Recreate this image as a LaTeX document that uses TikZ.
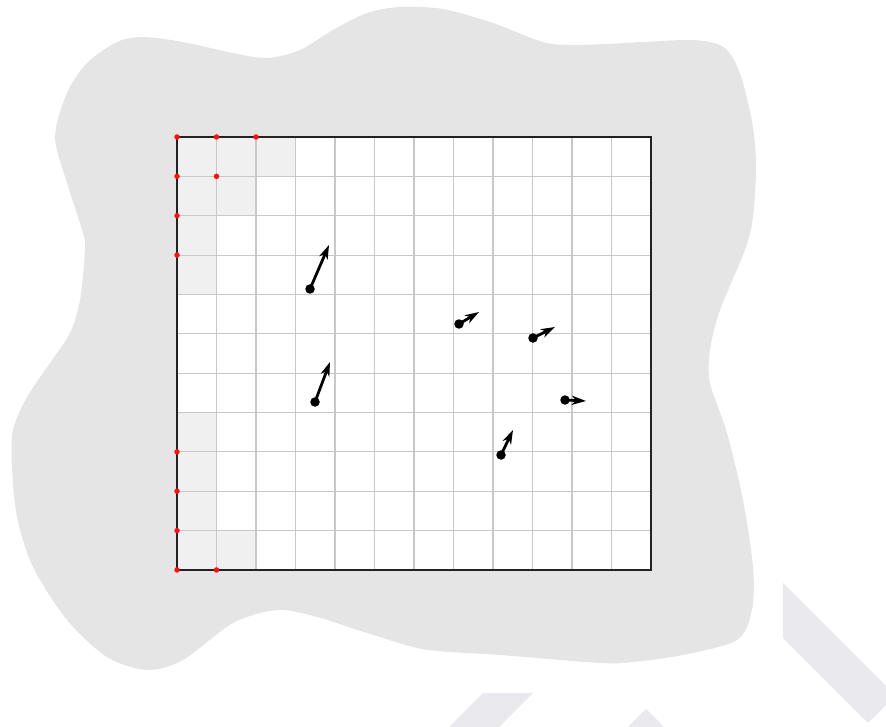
\documentclass[tikz,border=0pt]{standalone}
\usepackage{tikz}
\usetikzlibrary{arrows.meta}
\definecolor{blobgrey}{HTML}{E5E5E5}
\definecolor{cellgrey}{HTML}{F0F0F0}
\definecolor{gridgrey}{HTML}{C8C8C8}
\definecolor{rimdark}{HTML}{222222}
\definecolor{seamred}{HTML}{FF1010}
\definecolor{wmark}{HTML}{E9E9EE}
\begin{document}
\begin{tikzpicture}[x=1pt,y=-1pt,
  cellfill/.style={fill=cellgrey},
  gridln/.style={draw=gridgrey,line width=1.1pt},
  rim/.style={draw=rimdark,line width=1.8pt},
  seam/.style={circle,fill=seamred,inner sep=0pt,minimum size=5.5pt},
  dot/.style={circle,fill=black,inner sep=0pt,minimum size=9.5pt},
  vec/.style={-{Stealth[length=14pt,width=9pt,inset=4pt]},line width=2.8pt,black}]
  \clip (0,0) rectangle (886,727);
  % background blob
  \fill[blobgrey] plot[smooth cycle,tension=0.5] coordinates {(55,137) (67,93) (87,63) (117,42) (143,37) (183,42)
    (233,53) (267,58) (300,50) (333,30) (367,13) (400,7) (443,9) (493,23) (543,42) (576,45) (643,42) (693,40)
    (720,45) (733,58) (743,83) (753,127) (756,167) (753,217) (745,250) (720,310) (710,350) (710,383) (727,433)
    (743,500) (753,567) (752,610) (737,640) (683,655) (633,662) (600,663) (500,655) (450,652) (417,648)
    (367,633) (317,617) (277,610) (233,623) (183,660) (147,670) (107,657) (67,620) (33,567) (17,517)
    (12,467) (13,430) (27,397) (50,363) (70,333) (80,300) (85,250) (83,233) (67,183)};
  \fill[wmark] (783,583) -- (895.5,695.5) -- (868,723) -- (783,638) -- cycle;
  \fill[wmark] (646,709) -- (610,745) -- (682,745) -- cycle;
  \fill[wmark] (483,693) -- (533,693) -- (481,745) -- (431,745) -- cycle;
  % mesh
  \begin{scope}[shift={(177,137)},x=39.5pt,y=-39.36pt]
    \fill[white] (0,0) rectangle (12,11);
    \fill[cellfill] (0,0) rectangle (3,1); \fill[cellfill] (0,1) rectangle (2,2);
    \fill[cellfill] (0,2) rectangle (1,4); \fill[cellfill] (0,7) rectangle (1,11);
    \fill[cellfill] (1,10) rectangle (2,11);
    \foreach \c in {1,...,11} \draw[gridln] (\c,0) -- (\c,11);
    \foreach \r in {1,...,10} \draw[gridln] (0,\r) -- (12,\r);
    \draw[rim] (0,0) rectangle (12,11);
    \foreach \c/\r in {0/0,1/0,2/0,0/1,1/1,0/2,0/3,0/8,0/9,0/10,0/11,1/11}
      \node[seam] (s-\c-\r) at (\c,\r) {};
  \end{scope}
  % particles
  \node[dot] (p1) at (310,289) {}; \coordinate (v1) at (329,245);
  \node[dot] (p2) at (315,402) {}; \coordinate (v2) at (330,362);
  \node[dot] (p3) at (459,324) {}; \coordinate (v3) at (479,312);
  \node[dot] (p4) at (533,338) {}; \coordinate (v4) at (555,327);
  \node[dot] (p5) at (565,400) {}; \coordinate (v5) at (586,401);
  \node[dot] (p6) at (501,455) {}; \coordinate (v6) at (513,430);
  \draw[vec] (p1.center)--(v1); \draw[vec] (p2.center)--(v2); \draw[vec] (p3.center)--(v3);
  \draw[vec] (p4.center)--(v4); \draw[vec] (p5.center)--(v5); \draw[vec] (p6.center)--(v6);
\end{tikzpicture}
\end{document}
